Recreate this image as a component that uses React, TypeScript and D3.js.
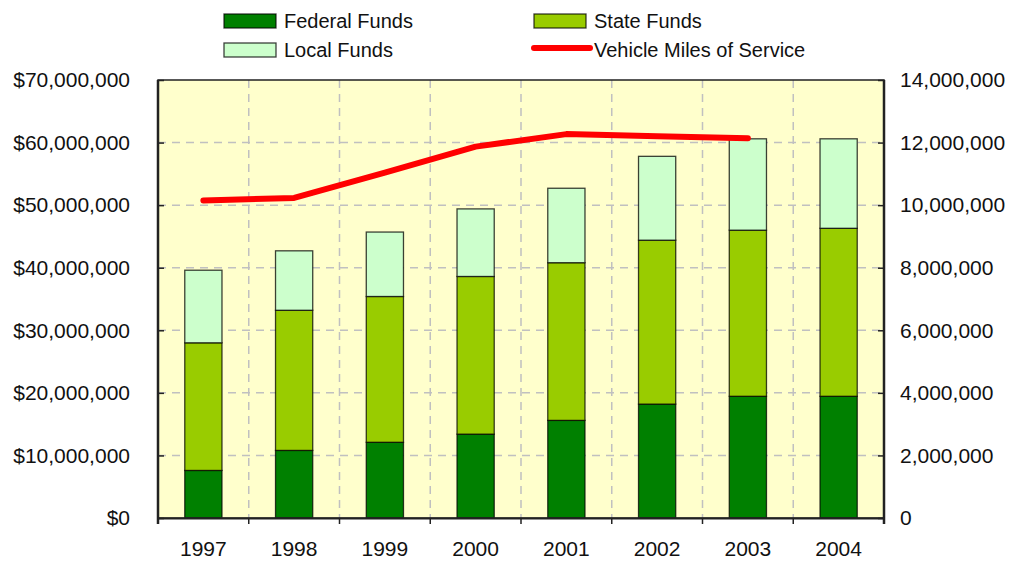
import React, { useRef, useEffect } from 'react'
import * as d3 from 'd3'

const years = ['1997', '1998', '1999', '2000', '2001', '2002', '2003', '2004']
const federalFunds = [7.6, 10.8, 12.1, 13.4, 15.6, 18.2, 19.45, 19.45].map(v => v * 1e6)
const stateFunds = [20.4, 22.4, 23.3, 25.2, 25.2, 26.2, 26.55, 26.85].map(v => v * 1e6)
const localFunds = [11.6, 9.5, 10.3, 10.8, 11.9, 13.4, 14.6, 14.3].map(v => v * 1e6)
// vehicle miles, no value for 2004
const vehicleMiles = [10.15, 10.23, 11.04, 11.87, 12.27, 12.2, 12.14].map(v => v * 1e6)

const leftTicks = [0, 10, 20, 30, 40, 50, 60, 70].map(v => v * 1e6)
const rightTicks = [0, 2, 4, 6, 8, 10, 12, 14].map(v => v * 1e6)

const seriesNames = ['Federal Funds', 'State Funds', 'Local Funds']
const seriesColors = ['#008000', '#99CC00', '#CCFFCC']

const FONT = '"Liberation Sans", Arial, sans-serif'

const Chart = () => {
  const svgRef = useRef<SVGSVGElement>(null)

  useEffect(() => {
    const w = 1015
    const h = 561
    const m = { left: 158, right: 884, top: 80, bottom: 518 }

    const svg = d3.select(svgRef.current)
      .attr('width', w)
      .attr('height', h)
      .style('position', 'absolute')
      .style('left', '0px')
      .style('top', '0px')
    svg.selectAll('*').remove()

    const x = d3.scaleBand()
      .domain(years)
      .range([m.left, m.right])
      .paddingInner(0.59)
      .paddingOuter(0.295)
    const step = x.step()
    const gap = (step - x.bandwidth()) / 2
    const yL = d3.scaleLinear().domain([0, 70e6]).range([m.bottom, m.top])
    const yR = d3.scaleLinear().domain([0, 14e6]).range([m.bottom, m.top])

    // plot background
    svg.append('rect')
      .attr('x', m.left).attr('y', m.top)
      .attr('width', m.right - m.left).attr('height', m.bottom - m.top)
      .attr('fill', '#FFFFCC')

    // grid
    const grid = svg.append('g')
      .attr('stroke', '#C0C0C0')
      .attr('stroke-width', 1.5)
      .attr('stroke-dasharray', '8,6')
    grid.selectAll('.hg')
      .data(leftTicks.slice(1, -1))
      .join('line')
      .attr('x1', m.left).attr('x2', m.right)
      .attr('y1', d => yL(d)).attr('y2', d => yL(d))
    grid.selectAll('.vg')
      .data(years.slice(1))
      .join('line')
      .attr('x1', d => x(d)! - gap)
      .attr('x2', d => x(d)! - gap)
      .attr('y1', m.top).attr('y2', m.bottom)

    // stacked bars
    const rows = years.map((yr, i) => ({
      year: yr,
      'Federal Funds': federalFunds[i],
      'State Funds': stateFunds[i],
      'Local Funds': localFunds[i],
    }))
    const stack = d3.stack<any>().keys(seriesNames)(rows)

    svg.append('g')
      .selectAll('g')
      .data(stack)
      .join('g')
      .attr('fill', (d, i) => seriesColors[i])
      .selectAll('rect')
      .data(d => d)
      .join('rect')
      .attr('x', d => x(d.data.year)!)
      .attr('y', d => yL(d[1]))
      .attr('width', x.bandwidth())
      .attr('height', d => yL(d[0]) - yL(d[1]))
      .attr('stroke', '#000')
      .attr('stroke-opacity', 0.75)
      .attr('stroke-width', 1.3)

    // line
    const line = d3.line<number>()
      .x((d, i) => x(years[i])! + x.bandwidth() / 2)
      .y(d => yR(d))
    svg.append('path')
      .datum(vehicleMiles)
      .attr('d', line)
      .attr('fill', 'none')
      .attr('stroke', '#FF0000')
      .attr('stroke-width', 6)
      .attr('stroke-linecap', 'round')
      .attr('stroke-linejoin', 'round')

    // frame
    svg.append('rect')
      .attr('x', m.left).attr('y', m.top)
      .attr('width', m.right - m.left).attr('height', m.bottom - m.top)
      .attr('fill', 'none')
      .attr('stroke', '#222')
      .attr('stroke-width', 1.5)
    svg.append('line')
      .attr('x1', m.left).attr('x2', m.left)
      .attr('y1', m.top).attr('y2', m.bottom + 6)
      .attr('stroke', '#222').attr('stroke-width', 2.5)
    svg.append('line')
      .attr('x1', m.right).attr('x2', m.right)
      .attr('y1', m.top).attr('y2', m.bottom + 6)
      .attr('stroke', '#222').attr('stroke-width', 2.5)

    // axes
    const fmtL = (d: d3.NumberValue) => '$' + d3.format(',')(+d)
    const fmtR = (d: d3.NumberValue) => d3.format(',')(+d)

    const left = svg.append('g')
      .attr('transform', `translate(${m.left},0)`)
      .call(d3.axisLeft(yL).tickValues(leftTicks).tickFormat(fmtL).tickSizeInner(-6).tickSizeOuter(0).tickPadding(28))
    const right = svg.append('g')
      .attr('transform', `translate(${m.right},0)`)
      .call(d3.axisRight(yR).tickValues(rightTicks).tickFormat(fmtR).tickSizeInner(-6).tickSizeOuter(0).tickPadding(16))
    const bottom = svg.append('g')
      .attr('transform', `translate(0,${m.bottom})`)
      .call(d3.axisBottom(x).tickSize(0).tickPadding(23))

    svg.append('g')
      .selectAll('line')
      .data(years.slice(1))
      .join('line')
      .attr('x1', d => x(d)! - gap)
      .attr('x2', d => x(d)! - gap)
      .attr('y1', m.bottom).attr('y2', m.bottom + 6)
      .attr('stroke', '#222').attr('stroke-width', 1.5)

    ;[left, right, bottom].forEach(g => {
      g.select('.domain').attr('stroke', '#222').attr('stroke-width', 2)
      g.selectAll('.tick line').attr('stroke', '#222').attr('stroke-width', 1.5)
      g.selectAll('.tick text')
        .attr('font-family', FONT)
        .attr('font-size', 21)
        .attr('fill', '#111')
    })
    left.select('.domain').remove()
    right.select('.domain').remove()
    bottom.selectAll('.tick text').attr('dy', '0.71em')

    // legend
    const legendItems = [
      { name: 'Federal Funds', color: seriesColors[0], x: 224, y: 21, type: 'box' },
      { name: 'State Funds', color: seriesColors[1], x: 534, y: 21, type: 'box' },
      { name: 'Local Funds', color: seriesColors[2], x: 224, y: 50, type: 'box' },
      { name: 'Vehicle Miles of Service', color: '#FF0000', x: 534, y: 50, type: 'line' },
    ]
    const lg = svg.append('g')
    legendItems.forEach(it => {
      if (it.type === 'box') {
        lg.append('rect')
          .attr('x', it.x).attr('y', it.y - 7)
          .attr('width', 52).attr('height', 14)
          .attr('fill', it.color)
          .attr('stroke', '#000').attr('stroke-opacity', 0.75).attr('stroke-width', 1.3)
      } else {
        lg.append('line')
          .attr('x1', it.x).attr('x2', it.x + 56)
          .attr('y1', it.y - 2).attr('y2', it.y - 2)
          .attr('stroke', it.color).attr('stroke-width', 6)
          .attr('stroke-linecap', 'round')
      }
      lg.append('text')
        .attr('x', it.x + 60).attr('y', it.y)
        .attr('dy', '0.35em')
        .attr('font-family', FONT)
        .attr('font-size', 20)
        .attr('fill', '#111')
        .text(it.name)
    })
  })

  return (
    <div className='chart'>
      <svg ref={svgRef}></svg>
    </div>
  )
}

export default function App() {
  return <Chart />
}
